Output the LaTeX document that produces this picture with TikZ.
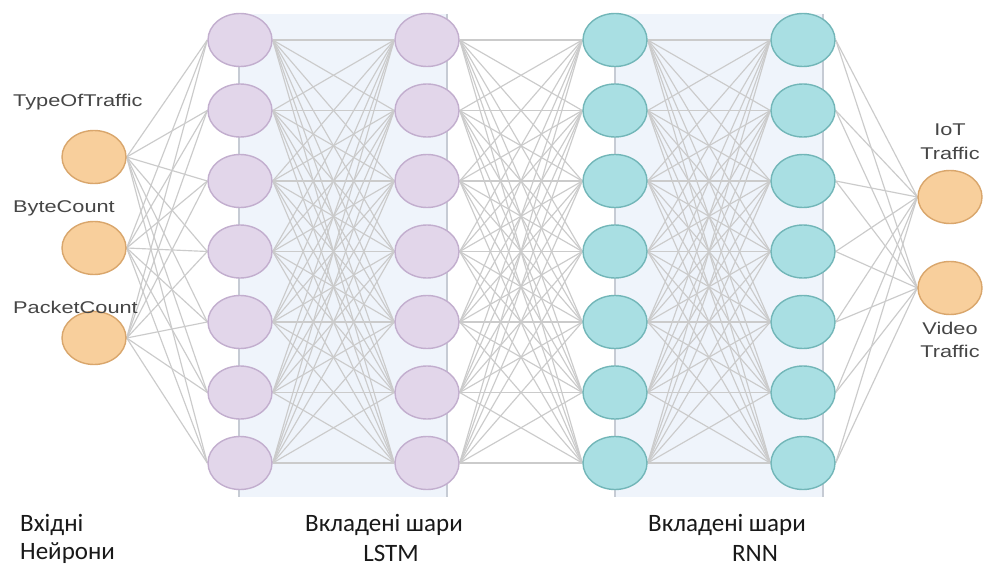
\documentclass[tikz,border=0pt]{standalone}
\usepackage{fontspec}
\setmainfont{Liberation Sans}
\newfontfamily\calfont{Carlito}
\usetikzlibrary{shapes.geometric}
\pgfdeclarelayer{bg}
\pgfdeclarelayer{edges}
\pgfsetlayers{bg,edges,main}
\definecolor{purfill}{HTML}{E2D6EA}
\definecolor{purdraw}{HTML}{C2AECE}
\definecolor{cyfill}{HTML}{A9DFE3}
\definecolor{cydraw}{HTML}{72B6B8}
\definecolor{orfill}{HTML}{F8CF9C}
\definecolor{ordraw}{HTML}{D9A66C}
\definecolor{edgecol}{HTML}{CBCBCB}
\definecolor{rectfill}{HTML}{EFF4FB}
\definecolor{rectline}{HTML}{C6CBD4}
\definecolor{labcol}{HTML}{464646}
\tikzset{
  neuron/.style={ellipse, minimum width=64pt, minimum height=53pt, inner sep=0pt, line width=1.4pt},
  purn/.style={neuron, fill=purfill, draw=purdraw},
  cyn/.style={neuron, fill=cyfill, draw=cydraw},
  orn/.style={neuron, fill=orfill, draw=ordraw},
  conn/.style={draw=edgecol, line width=1.15pt},
  layerbox/.style={fill=rectfill, draw=none},
  boxedge/.style={draw=rectline, line width=1.3pt},
  lab/.style={text=labcol, inner sep=0pt, font=\fontsize{17}{20}\selectfont},
  botlab/.style={inner sep=0pt, font=\calfont\fontsize{25}{30}\selectfont, text=black!90}
}
\begin{document}
\begin{tikzpicture}[x=1pt,y=-1pt]
\useasboundingbox (0,0) rectangle (987,569);
% layer boxes
\begin{pgfonlayer}{bg}
  \fill[white] (0,0) rectangle (987,569);
  \path[layerbox] (239,14) rectangle (447,497);
  \path[layerbox] (615,14) rectangle (823,497);
  \coordinate (b1t) at (239,14); \coordinate (b1b) at (239,497);
  \coordinate (b2t) at (447,14); \coordinate (b2b) at (447,497);
  \coordinate (b3t) at (615,14); \coordinate (b3b) at (615,497);
  \coordinate (b4t) at (823,14); \coordinate (b4b) at (823,497);
  \draw[boxedge] (b1t) -- (b1b);
  \draw[boxedge] (b2t) -- (b2b);
  \draw[boxedge] (b3t) -- (b3b);
  \draw[boxedge] (b4t) -- (b4b);
\end{pgfonlayer}
% input nodes
\node[orn] (i1) at (94,157) {};
\node[orn] (i2) at (94,248) {};
\node[orn] (i3) at (94,338) {};
% hidden columns
\foreach \k in {1,...,7}{
  \pgfmathsetmacro{\yy}{40+70.5*(\k-1)}
  \node[purn] (a\k) at (240,\yy) {};
  \node[purn] (b\k) at (427,\yy) {};
  \node[cyn] (c\k) at (615,\yy) {};
  \node[cyn] (d\k) at (803,\yy) {};
}
% outputs
\node[orn] (o1) at (950,197) {};
\node[orn] (o2) at (950,288) {};
% edges
\begin{pgfonlayer}{edges}
  \foreach \i in {1,2,3}{\foreach \j in {1,...,7}{\draw[conn] (i\i.east) -- (a\j.west);}}
  \foreach \i in {1,...,7}{\foreach \j in {1,...,7}{
    \draw[conn] (a\i.east) -- (b\j.west);
    \draw[conn] (b\i.east) -- (c\j.west);
    \draw[conn] (c\i.east) -- (d\j.west);
  }}
  \foreach \i in {1,...,7}{\foreach \j in {1,2}{\draw[conn] (d\i.east) -- (o\j.west);}}
\end{pgfonlayer}
% labels
\node[lab, anchor=west] (l1) at (13,102) {\scalebox{1.28}[1]{TypeOfTraffic}};
\node[lab, anchor=west] (l2) at (13,208) {\scalebox{1.28}[1]{ByteCount}};
\node[lab, anchor=west] (l3) at (13,307) {\scalebox{1.28}[1]{PacketCount}};
\node[lab] (l4) at (950,130) {\scalebox{1.28}[1]{IoT}};
\node[lab] (l5) at (950,153) {\scalebox{1.28}[1]{Traffic}};
\node[lab] (l6) at (950,328) {\scalebox{1.28}[1]{Video}};
\node[lab] (l7) at (950,351) {\scalebox{1.28}[1]{Traffic}};
% bottom labels
\node[botlab, anchor=west] (t1) at (20,525) {Вхідні};
\node[botlab, anchor=west] (t2) at (20,553) {Нейрони};
\node[botlab] (t3) at (384,525) {Вкладені шари};
\node[botlab] (t4) at (391,553) {LSTM};
\node[botlab] (t5) at (727,525) {Вкладені шари};
\node[botlab] (t6) at (755,553) {RNN};
\end{tikzpicture}
\end{document}
